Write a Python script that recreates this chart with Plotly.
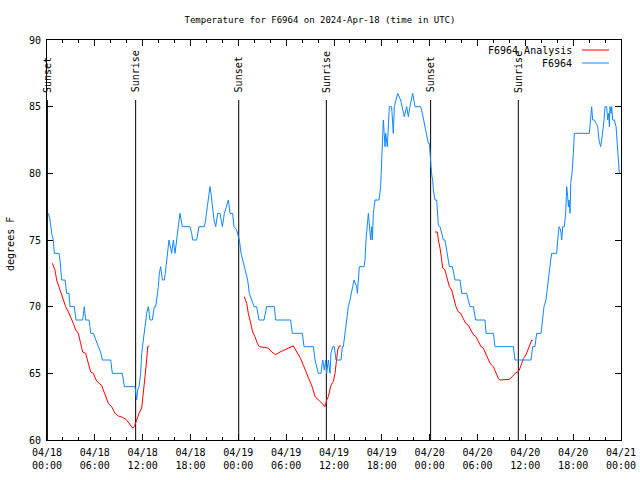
import pandas as pd
import plotly.graph_objects as go

BASE = pd.Timestamp("2024-04-18 00:00")

# Observed temperature F6964 (hours since 04/18 00:00 UTC, degrees F)
obs_hours = [0.17,0.38,0.59,0.79,0.92,1.51,1.63,1.84,2.26,2.34,2.47,2.76,2.89,3.43,3.64,4.47,4.68,4.85,5.27,5.39,5.48,5.81,6.44,6.77,6.94,7.99,8.20,9.45,9.70,11.04,11.25,11.37,11.54,11.75,11.88,12.17,12.38,12.50,12.71,12.92,13.21,13.46,13.63,13.76,13.97,14.09,14.26,14.47,14.72,14.84,15.01,15.22,15.30,15.64,15.85,16.06,16.27,16.39,16.56,16.68,16.98,17.94,18.15,18.27,18.77,18.90,19.07,19.74,19.90,20.11,20.32,20.45,20.57,20.74,20.95,21.16,21.41,21.70,21.83,22.00,22.25,22.54,22.75,22.96,23.29,23.46,
             23.79,24.00,24.13,24.34,24.54,24.75,24.96,25.17,25.38,25.67,25.97,26.30,26.59,27.22,27.55,28.52,28.68,30.56,30.77,32.03,32.24,33.41,33.62,34.04,34.37,34.58,34.79,34.96,35.08,35.29,35.50,35.62,35.83,36.04,36.25,36.88,37.05,37.17,37.38,37.59,37.80,38.01,38.22,38.34,38.51,38.84,38.93,39.05,39.18,39.76,39.89,40.01,40.18,40.31,40.60,40.73,40.81,40.94,41.14,41.65,41.85,41.98,42.11,42.19,42.40,42.48,42.69,42.82,42.94,43.23,43.44,43.57,43.74,43.99,44.36,44.57,44.82,45.12,45.32,45.53,45.87,46.16,46.87,47.08,
             47.42,47.63,47.83,47.96,48.04,48.17,48.29,48.38,48.46,48.59,48.67,48.88,49.00,49.09,49.30,49.51,49.72,49.92,50.05,50.13,50.34,50.47,50.85,50.97,51.18,51.81,52.02,52.64,52.85,53.06,53.48,53.60,53.77,54.94,55.07,55.99,56.20,58.50,58.71,60.71,60.92,61.21,61.42,61.97,62.18,62.34,62.59,62.76,62.97,63.18,63.31,63.93,64.06,64.23,64.43,64.56,64.69,64.89,65.06,65.19,65.31,65.40,65.48,65.61,65.69,65.86,66.02,66.15,68.03,68.20,68.32,68.45,68.66,68.87,69.08,69.24,69.45,69.58,69.70,69.87,70.00,70.20,70.33,70.46,70.54,70.62,70.75,70.83,70.96,71.17,71.38,71.54,71.67,71.79,72.0]
obs_temps = [77,76.5,75.5,75,74,74,73.5,72,72,71.5,71,71,70,70,69,69,70,69,69,68.5,68,68,67,66.5,66,66,65,65,64,64,63,63.75,64,65,66.5,68,69,69.5,70,69,69,70,70,70.5,71.5,72.5,73,72,72,72.5,73.5,74.5,75,74,75,74,75,75.5,76.5,77,76,76,75.5,75,75,75.5,76,76,76.5,77.5,78.5,79,78.5,77.5,76.5,76,77,77,76.5,76,77,77.5,78,77,77,76,
             75.75,75.25,75,74,73.5,73,72.5,72,71,70.5,70,70,69,69,70,70,69,69,68,68,67,67,66,65,65,66,65.25,66,65,66,65,66.5,67,67,66,66,67,67,68,69,70,70.5,71,71.5,72,71.5,71,72,73,73,73.5,75,76,77,75,76,75,77,78,78,79,81,83,84,82,83,82,84,85,85,83,85,85.5,86,85.5,85,84.25,85,84.25,85,86,85,85,84.5,
             83.5,82.75,82.25,82.25,81.25,80.5,79.75,79.5,78.75,78.25,78,78,77,76.1,76,75.5,75,75,74.5,74,73.5,73,73,72.5,72,72,71,71,70.5,70,70,69.5,69,69,68,68,67,67,66,66,67,67,68,68,69,70,70.5,71.5,72.5,73.5,74,74,75,76,75.75,75,76,76,77,79,78.25,77.5,78,77,79.25,80,81.5,83,83,84,85,84,84,83.75,83.5,82.5,82,82.5,83,84,85,85,84,84.5,83.5,85,84.5,85,84,84,83.5,82,80.5,80,80]

# Analysis F6964 (three separate runs, None = gap)
ana_hours = [0.67,1.0,1.21,1.51,1.71,2.05,2.34,2.68,2.97,3.30,3.60,3.93,4.22,4.47,4.85,5.18,5.48,5.81,6.15,6.52,6.86,7.07,7.36,7.69,8.11,8.53,8.95,9.49,9.91,10.20,10.41,10.75,10.95,11.25,11.54,11.88,12.00,12.21,12.38,12.50,12.63,12.84,
             None,
             24.75,25.05,25.25,25.55,25.80,26.09,26.38,26.63,27.14,27.76,28.18,28.68,29.23,29.85,30.48,30.90,31.19,31.53,31.82,32.16,32.49,32.78,33.07,33.32,33.62,33.91,34.24,34.58,34.87,35.08,35.29,35.62,35.92,36.13,36.34,36.46,36.67,36.88,
             None,
             48.67,48.96,49.09,49.30,49.51,49.63,49.92,50.13,50.47,50.76,50.97,51.30,51.60,51.89,52.22,52.52,52.85,53.14,53.48,53.81,54.11,54.44,54.73,55.03,55.28,55.57,55.99,56.32,56.62,56.82,57.33,57.99,58.37,58.71,59.04,59.25,59.46,59.75,60.09,60.30,60.59,60.80,60.92]
ana_temps = [73.25,72.75,72,71.5,71,70.5,70,69.6,69.25,68.75,68.25,68,67.25,66.6,66.5,65.75,65.1,65,64.5,64.25,64.1,63.75,63.25,62.75,62.5,62,61.8,61.7,61.55,61.3,61.1,60.9,61,61.5,62,62.4,63,64,65.25,66,67,67.05,
             None,
             70.75,70.25,69.5,68.75,68.1,67.75,67.25,67,66.95,66.9,66.6,66.4,66.6,66.8,66.95,67.05,66.75,66.4,66.1,65.6,65.1,64.6,64.25,63.9,63.25,63.05,62.9,62.7,62.5,63,63.25,64.1,64.4,65,66,66.75,67.05,67.05,
             None,
             75.6,75.6,75,74.4,73.5,72.9,72.75,72.25,71.5,71.25,70.75,70,69.6,69.5,69.1,68.75,68.6,68.25,67.9,67.75,67.4,67,66.9,66.5,66.1,65.75,65.5,65,64.6,64.5,64.5,64.55,64.75,65,65.1,65.25,65.6,66.1,66.4,66.75,67.25,67.5,67.45]

sunset_hours = [0.05, 24.05, 48.12]
sunrise_hours = [11.12, 35.04, 59.12]
marker_top = 85.5

tick_hours = [0, 6, 12, 18, 24, 30, 36, 42, 48, 54, 60, 66, 72]
tick_labels = ["04/18<br>00:00", "04/18<br>06:00", "04/18<br>12:00", "04/18<br>18:00",
               "04/19<br>00:00", "04/19<br>06:00", "04/19<br>12:00", "04/19<br>18:00",
               "04/20<br>00:00", "04/20<br>06:00", "04/20<br>12:00", "04/20<br>18:00",
               "04/21<br>00:00"]
minor_hours = [h for h in range(0, 73, 2) if h % 6 != 0]


def to_time(hours):
    return [None if h is None else BASE + pd.Timedelta(hours=h) for h in hours]


FONT = "DejaVu Sans Mono"
BLUE = "#1286ff"
RED = "#ff0000"

fig = go.Figure()

# sunrise / sunset lines
vx, vy = [], []
for h in sunset_hours + sunrise_hours:
    t = BASE + pd.Timedelta(hours=h)
    vx += [t, t, None]
    vy += [60, marker_top, None]
fig.add_trace(go.Scatter(x=vx, y=vy, mode="lines", line=dict(color="black", width=1),
                         hoverinfo="skip", showlegend=False))

fig.add_trace(go.Scatter(x=to_time(ana_hours), y=ana_temps, mode="lines",
                         line=dict(color=RED, width=1), name="F6964 Analysis",
                         connectgaps=False, showlegend=False))
fig.add_trace(go.Scatter(x=to_time(obs_hours), y=obs_temps, mode="lines",
                         line=dict(color=BLUE, width=1), name="F6964", showlegend=False))

for label, hrs in (("Sunset", sunset_hours), ("Sunrise", sunrise_hours)):
    for h in hrs:
        fig.add_annotation(x=BASE + pd.Timedelta(hours=h), y=marker_top + 0.4,
                           text=label, textangle=-90, showarrow=False,
                           xanchor="center", yanchor="bottom",
                           font=dict(family=FONT, size=10, color="black"))

# custom gnuplot-style legend (text left, sample right)
legend_items = [("F6964 Analysis", RED, 0.975), ("F6964", BLUE, 0.9425)]
for name, col, yy in legend_items:
    fig.add_annotation(xref="paper", yref="paper", x=0.918, y=yy, text=name,
                       showarrow=False, xanchor="right", yanchor="middle",
                       font=dict(family=FONT, size=10, color="black"))
    fig.add_shape(type="line", xref="paper", yref="paper", x0=0.932, x1=0.979,
                  y0=yy, y1=yy, line=dict(color=col, width=1))

# y-axis title as annotation (gnuplot places it near the left edge)
fig.add_annotation(xref="paper", yref="paper", x=-0.0645, y=0.49, text="degrees F",
                   textangle=-90, showarrow=False, xanchor="center", yanchor="middle",
                   font=dict(family=FONT, size=10, color="black"))

fig.update_layout(
    width=640, height=480,
    margin=dict(l=47, r=19, t=40, b=40, autoexpand=False),
    paper_bgcolor="white", plot_bgcolor="white",
    title=dict(text="Temperature for F6964 on 2024-Apr-18 (time in UTC)",
               x=0.5, xanchor="center", xref="container",
               y=0.958, yanchor="middle", yref="container", automargin=False,
               font=dict(family=FONT, size=9, color="black")),
    font=dict(family=FONT, size=10, color="black"),
    showlegend=False,
)
fig.update_xaxes(
    range=[BASE, BASE + pd.Timedelta(hours=72)],
    tickmode="array", tickvals=to_time(tick_hours), ticktext=tick_labels,
    ticks="inside", ticklen=6, tickcolor="black", ticklabelstandoff=3,
    minor=dict(tickmode="array", tickvals=to_time(minor_hours), ticks="inside",
               ticklen=3, tickcolor="black"),
    showline=True, linecolor="black", linewidth=1, mirror="ticks",
    showgrid=False, zeroline=False, automargin=False,
    tickfont=dict(family=FONT, size=10),
)
fig.update_yaxes(
    range=[60, 90], tickmode="linear", tick0=60, dtick=5,
    ticks="inside", ticklen=6, tickcolor="black", ticklabelstandoff=3,
    showline=True, linecolor="black", linewidth=1, mirror="ticks",
    showgrid=False, zeroline=False, automargin=False,
    tickfont=dict(family=FONT, size=10),
)

fig.write_html("out.html", config={"displayModeBar": False},
               post_script="document.body.style.margin='0';document.body.style.padding='0';")
